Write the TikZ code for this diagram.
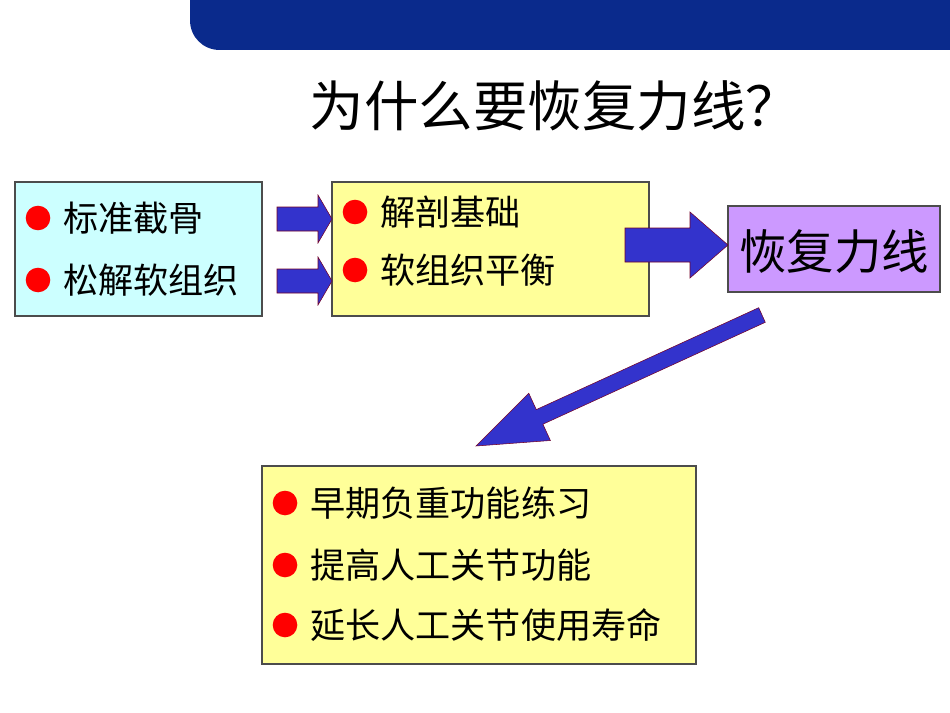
\documentclass[tikz,border=0pt]{standalone}
\usepackage{fontspec}
\setmainfont{Noto Sans CJK SC}
\usetikzlibrary{positioning}
\definecolor{banner}{HTML}{0A2A8C}
\definecolor{cyanbox}{HTML}{CCFFFF}
\definecolor{yelbox}{HTML}{FFFF99}
\definecolor{lilac}{HTML}{CC99FF}
\definecolor{blockblue}{HTML}{3333CC}
\tikzset{
    box/.style={draw=black!70,line width=.6pt},
    item/.style={anchor=west,font=\fontsize{20}{22}\selectfont,inner sep=0pt},
    bullet/.style={circle,fill=red,minimum size=14pt,inner sep=0pt},
    blockarrow/.style={fill=blockblue,draw=purple!60!black,line width=.3pt}
}
\begin{document}
\begin{tikzpicture}[x=0.02cm,y=-0.02cm]
        \useasboundingbox (0,0) rectangle (950,713);
        \fill [white] (0,0) rectangle (950,713);
        % banner
        \fill [banner] (950,0) -- (190,0) -- (190,20) .. controls (190,37) and (203,50) .. (220,50) -- (950,50) -- cycle;
        \node (title) at (555,106) {\fontsize{31}{34}\selectfont 为什么要恢复力线？};
        % boxes
        \fill [cyanbox] (15,182) rectangle (262,316);
        \draw [box] (15,182) rectangle (262,316);
        \fill [yelbox] (332,182) rectangle (649,316);
        \draw [box] (332,182) rectangle (649,316);
        \fill [lilac] (728,206) rectangle (940,292);
        \draw [box] (728,206) rectangle (940,292);
        \fill [yelbox] (262,466) rectangle (696,664);
        \draw [box] (262,466) rectangle (696,664);
        \node (goal) at (834,252) {\fontsize{27}{30}\selectfont 恢复力线};
        % bullet lists
        \foreach \y/\t [count=\i] in {218/标准截骨,280/松解软组织}{
            \node [bullet] (b\i) at (38,\y) {};
            \node [item,right=7pt of b\i] (t\i) {\t};
        }
        \foreach \y/\t [count=\i] in {212/解剖基础,270/软组织平衡}{
            \node [bullet] (c\i) at (355,\y) {};
            \node [item,right=7pt of c\i] (u\i) {\t};
        }
        \foreach \y/\t [count=\i] in {503/早期负重功能练习,565/提高人工关节功能,625/延长人工关节使用寿命}{
            \node [bullet] (d\i) at (285,\y) {};
            \node [item,right=7pt of d\i] (v\i) {\t};
        }
        % block arrows
        \foreach \y in {219,281}{
            \draw [blockarrow] (277,\y-12) -- (318,\y-12) -- (318,\y-24) -- (332,\y)
                -- (318,\y+24) -- (318,\y+12) -- (277,\y+12) -- cycle;
        }
        \draw [blockarrow] (625,228) -- (690,228) -- (690,212) -- (728,245)
            -- (690,278) -- (690,262) -- (625,262) -- cycle;
        \draw [blockarrow] (765.3,322.3) -- (542.9,424.2) -- (550.4,440.5) -- (476,446)
            -- (528.8,393.3) -- (536.3,409.6) -- (758.7,307.7) -- cycle;
\end{tikzpicture}
\end{document}
